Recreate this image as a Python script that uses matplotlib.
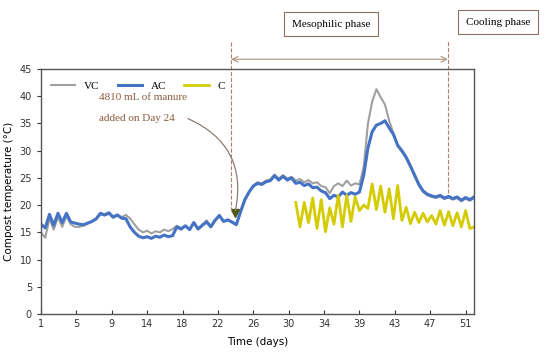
import numpy as np
import matplotlib.pyplot as plt

# days sampled every half day
days = np.arange(1.0, 52.01, 0.5)

ac = [16.5, 15.8, 18.3, 16.3, 18.5, 16.8, 18.5, 16.9, 16.7, 16.5,
      16.4, 16.7, 17.0, 17.5, 18.5, 18.2, 18.6, 17.8, 18.2, 17.6,
      17.5, 16.0, 15.0, 14.3, 14.0, 14.2, 13.9, 14.3, 14.1, 14.5,
      14.2, 14.4, 16.0, 15.6, 16.2, 15.5, 16.8, 15.6, 16.3, 16.9,
      16.0, 17.2, 18.1, 17.0, 17.3, 16.9, 16.4, 18.8, 21.0, 22.4,
      23.5, 24.0, 23.8, 24.3, 24.5, 25.4, 24.6, 25.3, 24.6, 25.0,
      24.0, 24.2, 23.6, 23.9, 23.2, 23.3, 22.6, 22.3, 21.2, 21.8,
      21.5, 22.4, 21.8, 22.3, 22.0, 22.4, 25.5, 30.5, 33.5, 34.7,
      35.0, 35.5, 34.2, 33.0, 31.0, 30.0, 28.8, 27.2, 25.5, 23.8,
      22.6, 22.0, 21.7, 21.5, 21.8, 21.3, 21.6, 21.2, 21.5, 20.9,
      21.4, 21.0, 21.5]

vc = [15.0, 14.0, 17.5, 15.5, 17.8, 16.0, 18.0, 16.5, 16.0, 16.0,
      16.2, 16.6, 17.0, 17.4, 18.3, 18.1, 18.4, 17.7, 18.1, 17.8,
      18.2, 17.5, 16.5, 15.5, 15.0, 15.3, 14.8, 15.2, 15.0, 15.5,
      15.2, 15.6, 16.2, 15.8, 16.2, 15.6, 16.7, 15.7, 16.4, 17.2,
      16.2, 17.3, 18.0, 17.0, 17.2, 16.8, 16.5, 18.6, 20.8, 22.3,
      23.6, 24.2, 24.0, 24.5, 24.7, 25.6, 24.9, 25.5, 24.9, 25.2,
      24.5, 24.8, 24.2, 24.6, 24.0, 24.2, 23.5, 23.3, 22.2, 23.5,
      24.0, 23.5, 24.5, 23.6, 24.0, 23.8, 27.0, 35.0, 39.0, 41.3,
      39.8, 38.5, 35.5, 33.2, 30.8, 29.8, 28.6, 27.0, 25.3, 23.6,
      22.4, 21.8, 21.5, 21.3, 21.6, 21.1, 21.4, 21.0, 21.3, 20.7,
      21.2, 20.8, 21.3]

c_days = np.arange(31.0, 52.01, 0.5)
c = [20.5, 16.0, 20.5, 16.8, 21.3, 15.7, 21.0, 15.1, 19.5, 16.5,
     21.8, 16.0, 21.8, 17.0, 21.5, 19.0, 20.0, 19.4, 23.9, 19.2,
     23.5, 18.7, 23.0, 17.5, 23.6, 17.2, 19.6, 16.6, 18.7, 16.8,
     18.5, 16.9, 18.1, 16.5, 19.0, 16.3, 18.8, 16.2, 18.6, 16.0,
     19.0, 15.7, 16.0]

tick_pos = np.linspace(1, 51, 13)
tick_labels = ['1', '5', '9', '14', '18', '22', '26', '30', '34', '39', '43', '47', '51']

serif = 'Liberation Serif'

fig = plt.figure(figsize=(5.5, 3.55), dpi=100)
ax = fig.add_axes([0.0745, 0.1155, 0.7875, 0.690])

ax.plot(days, vc, color='#a0a0a0', lw=1.5, label='VC')
ax.plot(days, ac, color='#4472c4', lw=2.2, label='AC')
ax.plot(c_days, c, color='#d4cc00', lw=2.0, label='C')

ax.set_xlim(1, 52)
ax.set_ylim(0, 45)
ax.set_yticks(range(0, 46, 5))
ax.set_xticks(tick_pos)
ax.set_xticklabels(tick_labels)
ax.tick_params(axis='x', direction='in', length=3, labelsize=7, colors='#333333')
ax.tick_params(axis='y', direction='out', length=3, labelsize=7, colors='#333333')
for s in ax.spines.values():
    s.set_color('#555555')
    s.set_linewidth(1.0)

ax.set_xlabel('Time (days)', fontsize=7.5, labelpad=6)
ax.set_ylabel('Compost temperature (°C)', fontsize=7.5, labelpad=4)

leg = ax.legend(loc='upper left', ncol=3, frameon=False, prop={'family': serif, 'size': 8},
                handlelength=2.2, columnspacing=1.6, bbox_to_anchor=(0.0, 0.99))

# manure note
ax.text(7.8, 39.7, '4810 mL of manure', family=serif, fontsize=8, color='#8b5a3c', va='center')
ax.text(7.8, 35.9, 'added on Day 24', family=serif, fontsize=8, color='#8b5a3c', va='center')
ax.annotate('', xy=(23.9, 19.0), xytext=(18.3, 35.9),
            arrowprops=dict(arrowstyle='-', color='#8c7b70', lw=0.9,
                            connectionstyle='arc3,rad=-0.4', shrinkA=0, shrinkB=0))
ax.plot([23.9], [18.6], marker='v', ms=6, color='#4d5a1a', ls='none')

# phase markers
ax.plot([23.4, 23.4], [19.0, 50.1], ls='--', lw=0.8, color='#b07f70', clip_on=False)
ax.plot([48.9, 48.9], [22.3, 50.1], ls='--', lw=0.8, color='#b07f70', clip_on=False)
ax.annotate('', xy=(48.9, 46.8), xytext=(23.4, 46.8),
            arrowprops=dict(arrowstyle='<->', color='#b09080', lw=0.8, shrinkA=0, shrinkB=0),
            annotation_clip=False)

box = dict(boxstyle='square,pad=0.7', fc='white', ec='#8b6f60', lw=0.8)
fig.text(0.602, 0.932, 'Mesophilic phase', family=serif, fontsize=8, ha='center', va='center', bbox=box)
fig.text(0.905, 0.938, 'Cooling phase', family=serif, fontsize=8, ha='center', va='center', bbox=box)

fig.savefig('out.png', dpi=100)
